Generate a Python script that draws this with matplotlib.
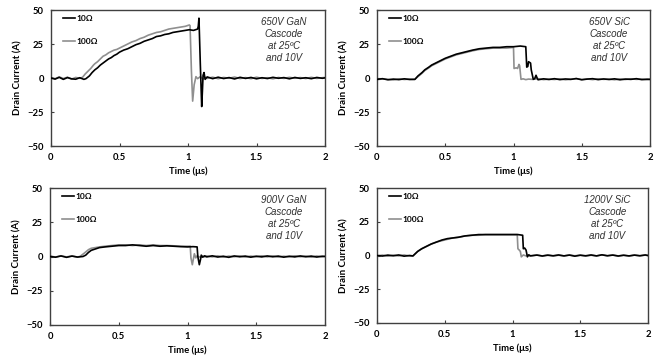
import matplotlib
matplotlib.use("Agg")
import matplotlib.pyplot as plt

plt.rcParams['font.family'] = ['Lato', 'DejaVu Sans']

# ---- panel titles
titles = ["650V GaN\nCascode\nat 25ºC\nand 10V",
          "650V SiC\nCascode\nat 25ºC\nand 10V",
          "900V GaN\nCascode\nat 25ºC\nand 10V",
          "1200V SiC\nCascode\nat 25ºC\nand 10V"]

xticks = [0, 0.5, 1, 1.5, 2]
xticklabels = ["0", "0.5", "1", "1.5", "2"]
yticks = [-50, -25, 0, 25, 50]

# shared tail time axis (after turn-off)
t_tail = [1.14, 1.18, 1.22, 1.26, 1.30, 1.34, 1.38, 1.42, 1.46, 1.50, 1.54,
          1.58, 1.62, 1.66, 1.70, 1.74, 1.78, 1.82, 1.86, 1.90, 1.94, 1.98, 2.0]

# ---- 650V GaN
gan650_t10 = [0, 0.03, 0.06, 0.09, 0.12, 0.15, 0.18, 0.21, 0.24, 0.255,
              0.28, 0.30, 0.32, 0.34, 0.36, 0.38, 0.40, 0.42, 0.44, 0.46, 0.48,
              0.50, 0.53, 0.56, 0.59, 0.62, 0.65, 0.68, 0.71, 0.74, 0.77, 0.80,
              0.83, 0.86, 0.89, 0.92, 0.95, 0.98, 1.01, 1.04, 1.07, 1.075,
              1.08, 1.09, 1.10, 1.105, 1.11, 1.117, 1.125] + t_tail
gan650_i10 = [0, -0.8, 0.5, -1, 0.3, -0.6, -0.9, 0.2, -1, -0.5,
              1.5, 4, 6, 7.5, 9.5, 11, 12.5, 14, 15, 16.5, 17.5,
              19, 20.5, 21.5, 23, 24.5, 25.5, 27, 28, 29, 30.5, 31,
              32, 32.5, 33.5, 34, 34.5, 35, 35.5, 35, 36, 38,
              44, 10, -21, -10, 2, 4, -1,
              0.8, -0.5, 0.6, -0.4, 0.3, -0.7, 0.5, -0.3, 0.4, -0.6, 0.2,
              -0.4, 0.5, -0.2, 0.3, -0.6, 0.4, -0.3, 0.2, -0.5, 0.4, -0.2, 0.1]
gan650_t100 = [0, 0.03, 0.06, 0.09, 0.12, 0.15, 0.18, 0.21, 0.23,
               0.25, 0.27, 0.29, 0.31, 0.32, 0.34, 0.36, 0.38, 0.40, 0.42, 0.44,
               0.46, 0.48, 0.50, 0.53, 0.56, 0.59, 0.62, 0.65, 0.68, 0.71, 0.74,
               0.77, 0.80, 0.83, 0.86, 0.89, 0.92, 0.95, 0.98, 1.01, 1.015,
               1.025, 1.034, 1.045, 1.058, 1.07, 1.09, 1.11, 1.125] + t_tail
gan650_i100 = [0.3, -0.5, 0.8, -0.4, 0.6, -0.8, 0.4, -0.2, 0.5,
               3, 5, 7, 9.5, 10.5, 12, 14, 16, 17, 18.5, 19.5,
               20.5, 21, 22, 23.5, 25, 26.5, 27.5, 29, 30, 31.5, 32.5,
               33.5, 34, 35, 36, 36.5, 37, 37.5, 38, 39, 38.5,
               5, -17, -5, 1, -0.5, 1, -0.8, 0.5,
               -0.3, 0.6, -0.5, 0.4, -0.2, 0.7, -0.4, 0.3, -0.5, 0.6, -0.3,
               0.2, -0.6, 0.4, -0.3, 0.5, -0.2, 0.3, -0.4, 0.5, -0.3, 0.2, 0.4]

# ---- 650V SiC
sic650_t10 = [0, 0.04, 0.08, 0.12, 0.16, 0.20, 0.24, 0.278,
              0.30, 0.33, 0.35, 0.38, 0.40, 0.43, 0.46, 0.50, 0.54, 0.58, 0.62,
              0.66, 0.70, 0.75, 0.80, 0.85, 0.90, 0.95, 1.00, 1.05, 1.09,
              1.097, 1.105, 1.11, 1.125, 1.13, 1.145, 1.155, 1.165, 1.175] + t_tail[1:]
sic650_i10 = [-1, -0.5, -1.3, -0.8, -1.2, -0.6, -1.1, -1,
              1.5, 4, 6, 8, 9.5, 11, 12.5, 14.5, 16, 17.5, 18.5,
              19.5, 20.5, 21.5, 22, 22.5, 22.5, 23, 23, 23.5, 23,
              8, 8.5, 12, 11, 6, -1, -0.5, 2, -0.5,
              -1.3, -0.6, -1.1, -0.5, -1.2, -0.7, -1, -0.4, -1.3, -0.8, -0.5,
              -1.2, -0.7, -1.1, -0.6, -1.3, -0.8, -1, -0.5, -1.2, -0.9, -1]
sic650_t100 = [0, 0.04, 0.08, 0.12, 0.16, 0.20, 0.24, 0.275,
               0.30, 0.33, 0.35, 0.38, 0.40, 0.43, 0.46, 0.50, 0.54, 0.58, 0.62,
               0.66, 0.70, 0.75, 0.80, 0.85, 0.90, 0.95, 1.00,
               1.004, 1.02, 1.03, 1.04, 1.045, 1.055, 1.07, 1.09, 1.11] + t_tail
sic650_i100 = [-1.2, -0.7, -1, -1.4, -0.6, -1.1, -0.8, -1,
               1, 3.5, 5.5, 7.5, 9, 10.5, 12, 14, 15.5, 17, 18,
               19, 20, 21, 21.5, 22, 22, 22, 22.5,
               7, 7.5, 7, 10, 9, -1, -0.6, -1.2, -0.8,
               -1, -0.5, -1.2, -0.8, -1.1, -0.6, -1.3, -0.9, -0.5, -1.1, -0.7,
               -1.2, -0.6, -1, -0.8, -1.3, -0.7, -1.1, -0.6, -1, -0.8, -1.2, -1]

# ---- 900V GaN
gan900_t10 = [0, 0.04, 0.08, 0.12, 0.16, 0.20, 0.24,
              0.26, 0.28, 0.30, 0.33, 0.36, 0.40, 0.45, 0.50, 0.55, 0.60, 0.65,
              0.70, 0.75, 0.80, 0.85, 0.90, 0.95, 1.00, 1.04, 1.07,
              1.075, 1.086, 1.095, 1.10, 1.11, 1.125] + t_tail
gan900_i10 = [0, -0.5, 0.4, -0.6, 0.3, -0.4, 0,
              1, 3, 4.5, 5.5, 6.5, 7, 7.5, 8, 8, 8.5, 8,
              7.5, 8, 7.5, 7.8, 7.5, 7.2, 7, 7.2, 7,
              0, -6, -2, 1, -0.5, 0.5,
              -0.3, 0.5, -0.4, 0.2, -0.6, 0.4, -0.2, 0.3, -0.5, 0.2, -0.3,
              0.4, -0.2, 0.3, -0.5, 0.2, -0.3, 0.4, -0.2, 0.3, -0.4, 0.2, 0]
gan900_t100 = [0, 0.04, 0.08, 0.12, 0.16, 0.20, 0.22,
               0.25, 0.28, 0.30, 0.33, 0.36, 0.40, 0.45, 0.50, 0.55, 0.60, 0.65,
               0.70, 0.75, 0.80, 0.85, 0.90, 0.95, 1.00, 1.02,
               1.025, 1.035, 1.05, 1.06, 1.07, 1.09, 1.11, 1.125] + t_tail
gan900_i100 = [0.3, -0.4, 0.5, -0.3, 0.4, -0.5, 0.2,
               2.5, 5, 6, 6.5, 7, 7.5, 8, 8.5, 8.5, 8, 8.5,
               8, 8.5, 8, 8, 7.8, 7.5, 7.5, 7.5,
               -1, -6, 2, -1, 0.5, -0.5, 0.3, -0.3,
               0.4, -0.3, 0.5, -0.5, 0.3, -0.2, 0.4, -0.4, 0.3, -0.2, 0.5,
               -0.3, 0.4, -0.4, 0.2, -0.3, 0.5, -0.2, 0.3, -0.5, 0.4, -0.3, 0.2]

# ---- 1200V SiC
sic1200_t10 = [0, 0.04, 0.08, 0.12, 0.16, 0.20, 0.24, 0.265,
               0.30, 0.33, 0.35, 0.38, 0.40, 0.44, 0.48, 0.52, 0.56, 0.60, 0.65,
               0.70, 0.75, 0.80, 0.85, 0.90, 0.95, 1.00, 1.04, 1.075,
               1.08, 1.09, 1.10, 1.11, 1.12, 1.13] + t_tail[1:]
sic1200_i10 = [0, -0.4, 0.3, -0.2, 0.4, -0.5, 0, -0.3,
               3, 5, 6, 7.5, 8.5, 10, 11.5, 12.5, 13, 13.5, 14.5,
               15, 15.5, 15.5, 15.5, 15.5, 15.5, 15.5, 15.5, 15,
               5, 5.5, 4, -1, 0.5, -0.3,
               0.3, -0.4, 0.2, -0.2, 0.4, -0.3, 0.3, -0.5, 0.2, -0.2, 0.4,
               -0.3, 0.5, -0.2, 0.3, -0.4, 0.2, -0.3, 0.3, -0.2, 0.4, 0]
sic1200_t100 = [0, 0.04, 0.08, 0.12, 0.16, 0.20, 0.24, 0.265,
                0.30, 0.33, 0.35, 0.38, 0.40, 0.44, 0.48, 0.52, 0.56, 0.60, 0.65,
                0.70, 0.75, 0.80, 0.85, 0.90, 0.95, 1.00, 1.035,
                1.04, 1.05, 1.058, 1.065, 1.08, 1.10, 1.12] + t_tail
sic1200_i100 = [-0.3, 0.3, -0.5, 0.2, -0.3, 0.4, -0.4, -0.5,
                3, 5, 6, 7.5, 8.5, 10, 11, 12, 13, 13.5, 14.5,
                15, 15, 15.5, 15.5, 15.5, 15.5, 15.5, 15.5,
                5, 4, 3, -1, 0.4, -0.3, 0.2,
                -0.2, 0.4, -0.3, 0.5, -0.4, 0.2, -0.3, 0.4, -0.2, 0.3, -0.5,
                0.2, -0.3, 0.5, -0.2, 0.4, -0.3, 0.2, -0.4, 0.3, -0.2, 0.3, -0.1]

panels = [
    (gan650_t10, gan650_i10, gan650_t100, gan650_i100),
    (sic650_t10, sic650_i10, sic650_t100, sic650_i100),
    (gan900_t10, gan900_i10, gan900_t100, gan900_i100),
    (sic1200_t10, sic1200_i10, sic1200_t100, sic1200_i100),
]

W, H = 659, 362
# axes boxes in pixels: left, top, right, bottom
boxes = [(51, 10, 325, 146), (377, 10, 650, 146),
         (50, 188, 325, 325), (377, 188, 648, 323)]

fig = plt.figure(figsize=(W / 100, H / 100), dpi=100)
spine_col = "#404040"
for k, (l, t, r, b) in enumerate(boxes):
    ax = fig.add_axes([l / W, 1 - b / H, (r - l) / W, (b - t) / H])
    t10, i10, t100, i100 = panels[k]
    ax.plot(t100, i100, color="#8f8f8f", lw=1.2, label="100Ω", zorder=2)
    ax.plot(t10, i10, color="black", lw=1.2, label="10Ω", zorder=3)
    ax.set_xlim(0, 2)
    ax.set_ylim(-50, 50)
    ax.set_xticks(xticks)
    ax.set_xticklabels(xticklabels)
    ax.set_yticks(yticks)
    ax.tick_params(direction="in", length=2.5, width=0.8, color=spine_col,
                   labelsize=6.8, pad=5)
    for lab in ax.get_xticklabels() + ax.get_yticklabels():
        lab.set_fontweight("bold")
    for s in ax.spines.values():
        s.set_color(spine_col)
        s.set_linewidth(1.0)
    ax.set_xlabel("Time (μs)", fontsize=6.8, fontweight="bold", labelpad=3)
    ax.set_ylabel("Drain Current (A)", fontsize=7, fontweight="bold", labelpad=4)
    h, lb = ax.get_legend_handles_labels()
    ax.legend(h[::-1], lb[::-1], loc="upper left", bbox_to_anchor=(0.025, 1.0),
              frameon=False, prop={"weight": "bold", "size": 6},
              handlelength=1.5, handletextpad=0.1, labelspacing=1.9,
              borderaxespad=0.2)
    ax.text(0.85, 0.95, titles[k], transform=ax.transAxes, ha="center",
            va="top", fontsize=7, style="italic", family="Liberation Sans",
            color="#303030", linespacing=1.25)

fig.savefig("out.png", dpi=100)
